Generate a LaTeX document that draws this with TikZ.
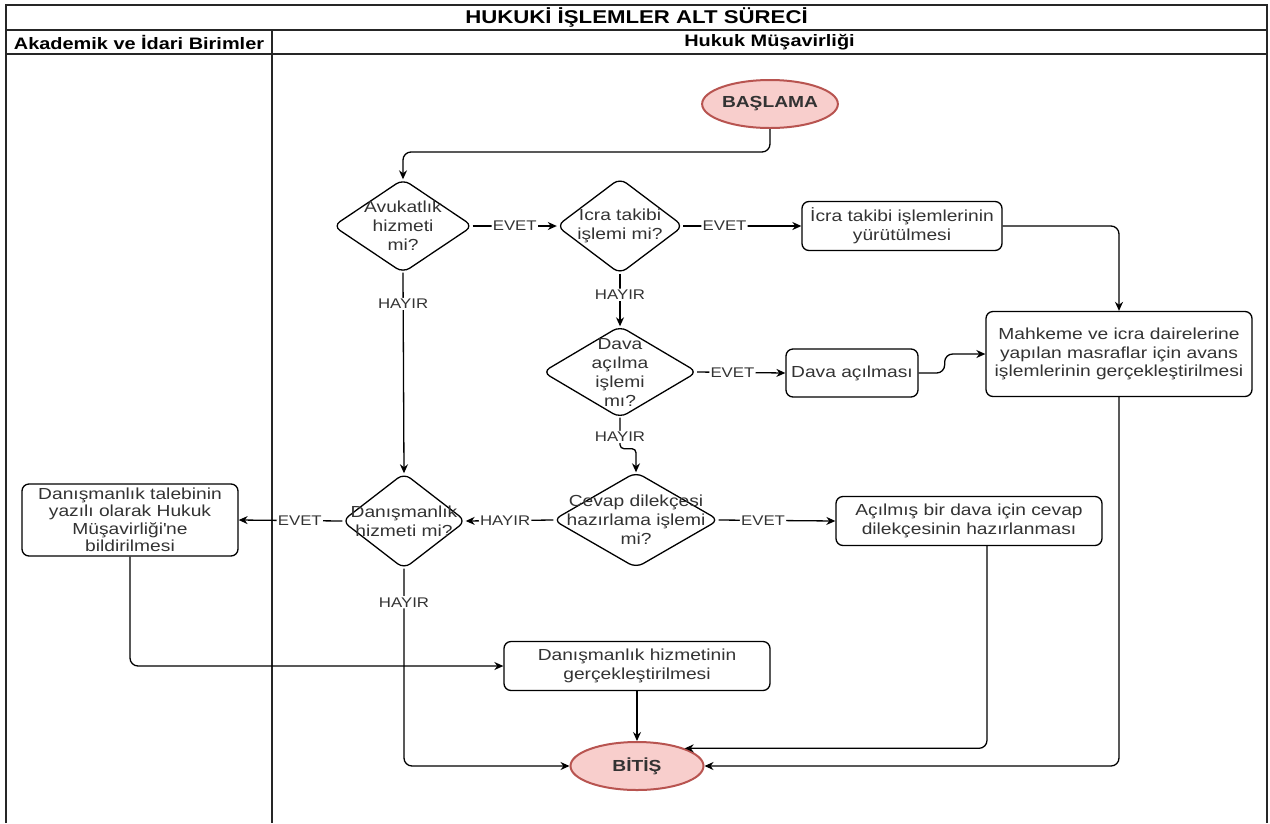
\documentclass[tikz,border=0pt]{standalone}
\usepackage{fontspec}
\setmainfont{Liberation Sans}[FakeStretch=1.2]
\usetikzlibrary{arrows.meta,shapes.geometric,calc}

\definecolor{termfill}{HTML}{F8CECC}
\definecolor{termline}{HTML}{B85450}
\definecolor{ink}{HTML}{333333}

\tikzset{
  base/.style={text=ink, font=\fontsize{16}{19}\selectfont, align=center},
  proc/.style={base, draw=black, line width=1.3pt, rounded corners=7pt,
    inner sep=0pt, minimum height=49pt},
  term/.style={ellipse, draw=termline, fill=termfill, line width=2pt,
    minimum width=133pt, minimum height=48pt, inner sep=0pt,
    text=ink, font=\bfseries\fontsize{16}{19}\selectfont},
  decision/.style={base, inner sep=0pt,
    append after command={\pgfextra{\draw[line width=1.3pt, rounded corners=8pt]
      (\tikzlastnode.north) -- (\tikzlastnode.east) -- (\tikzlastnode.south)
      -- (\tikzlastnode.west) -- cycle;}}},
  flow/.style={draw=black, line width=1.3pt, rounded corners=8pt,
    -{Stealth[length=9pt,width=8pt]}},
  lbl/.style={fill=white, inner sep=1.2pt, text=ink,
    font=\fontsize{14}{16}\selectfont},
  lane/.style={draw=black!85, line width=2pt},
  head/.style={text=black, font=\bfseries\fontsize{16.6}{19}\selectfont},
}

\begin{document}
\begin{tikzpicture}[x=1pt, y=-1pt]
  % canvas
  \fill[white] (0,0) rectangle (1270,823);
  \useasboundingbox (0,0) rectangle (1270,823);

  % pool frame and lanes
  \draw[lane] (6,823) -- (6,5) -- (1267,5) -- (1267,823);
  \draw[lane] (6,30) -- (1267,30);
  \draw[lane] (6,54) -- (1267,54);
  \draw[lane] (272,30) -- (272,823);

  \node[head, font=\bfseries\fontsize{18.5}{21}\selectfont] (title) at (636.5,17.5) {HUKUKİ İŞLEMLER ALT SÜRECİ};
  \node[head] (laneA) at (139,42) {Akademik ve İdari Birimler};
  \node[head] (laneB) at (769.5,42) {Hukuk Müşavirliği};

  % terminals
  \node[term] (start) at (770,104) {BAŞLAMA};
  \node[term] (end) at (637,766) {BİTİŞ};

  % decisions
  \node[decision, minimum width=139pt, minimum height=93pt] (avk) at (403,226)
    {Avukatlık\\hizmeti\\mi?};
  \node[decision, minimum width=126pt, minimum height=95pt] (icra) at (620,226)
    {Icra takibi\\işlemi mi?};
  \node[decision, minimum width=154pt, minimum height=91pt] (dava) at (620,372)
    {Dava\\açılma\\işlemi\\mı?};
  \node[decision, minimum width=165pt, minimum height=95pt] (cevap) at (636,520)
    {Cevap dilekçesi\\hazırlama işlemi\\mi?};
  \node[decision, minimum width=123pt, minimum height=95pt] (dan) at (404,521)
    {Danışmanlık\\hizmeti mi?};

  % processes
  \node[proc, minimum width=200pt] (icrabox) at (902,226)
    {İcra takibi işlemlerinin\\yürütülmesi};
  \node[proc, minimum width=266pt, minimum height=85pt,
        font=\fontsize{16}{18.5}\selectfont] (mah) at (1119,354)
    {Mahkeme ve icra dairelerine\\yapılan masraflar için avans\\işlemlerinin gerçekleştirilmesi};
  \node[proc, minimum width=132pt, minimum height=48pt] (davabox) at (852,373)
    {Dava açılması};
  \node[proc, minimum width=266pt] (acbox) at (969,521)
    {Açılmış bir dava için cevap\\dilekçesinin hazırlanması};
  \node[proc, minimum width=216pt, minimum height=72pt,
        font=\fontsize{16}{17.5}\selectfont] (talep) at (130,520)
    {Danışmanlık talebinin\\yazılı olarak Hukuk\\Müşavirliği\textquotesingle ne\\bildirilmesi};
  \node[proc, minimum width=266pt] (hiz) at (637,666)
    {Danışmanlık hizmetinin\\gerçekleştirilmesi};

  % connectors
  \coordinate (j1) at (403,152);
  \draw[flow] (start.south) |- (j1) -- (avk.north);
  \draw[flow] (avk.east) -- node[lbl] {EVET} (icra.west);
  \draw[flow] (icra.east) -- node[lbl, pos=0.35] {EVET} (icrabox.west);
  \draw[flow] (icrabox.east) -| (mah.north);
  \draw[flow] (icra.south) -- node[lbl, pos=0.4] {HAYIR} (dava.north);
  \draw[flow] (dava.east) -- node[lbl, pos=0.4] {EVET} (davabox.west);
  \draw[flow] (davabox.east) -- ++(26,0) |- (mah.west);
  \draw[flow, rounded corners=4pt] (dava.south) -- node[lbl, pos=0.62] {HAYIR} ++(0,31) -| (cevap.north);
  \draw[flow] (cevap.east) -- node[lbl, pos=0.38] {EVET} (acbox.west);
  \draw[flow] (cevap.west) -- node[lbl, pos=0.55] {HAYIR} (dan.east);
  \draw[flow] (dan.west) -- node[lbl, pos=0.41] {EVET} (talep.east);
  \draw[flow] (avk.south) -- node[lbl, pos=0.155] {HAYIR} (dan.north);
  \draw[flow] (dan.south) |- node[lbl, pos=0.085] {HAYIR} (end.west);
  \draw[flow] (talep.south) |- (hiz.west);
  \draw[flow] (hiz.south) -- (end.north);
  \draw[flow] ([xshift=18pt]acbox.south) |- (end.north east);
  \draw[flow] (mah.south) |- (end.east);
\end{tikzpicture}
\end{document}
